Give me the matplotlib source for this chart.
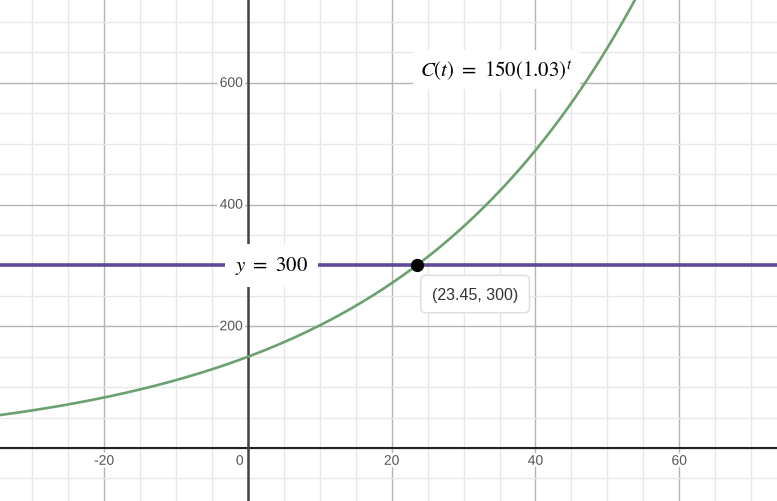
import matplotlib.pyplot as plt
import numpy as np
from matplotlib import patheffects

plt.rcParams['mathtext.fontset'] = 'stix'

# Values from the picture
initial = 150          # C(0)
growth = 1.03          # growth factor
level = 300            # horizontal line y = 300
meet = (23.45, 300)    # intersection point label
x_ticks = [-20, 0, 20, 40, 60]
y_ticks = [200, 400, 600]

xmin, xmax = -34.5, 73.6
ymin, ymax = -87.1, 737.9

fig = plt.figure(figsize=(7.77, 5.02), dpi=100)
ax = fig.add_axes([0, 0, 1, 1])
ax.set_xlim(xmin, xmax)
ax.set_ylim(ymin, ymax)
ax.axis('off')

# grid
for gx in np.arange(-30, 75, 5):
    major = gx % 20 == 0
    ax.axvline(gx, color='#b4b4b4' if major else '#e8e8e8', lw=1, zorder=0)
for gy in np.arange(-50, 750, 50):
    major = gy % 200 == 0
    ax.axhline(gy, color='#b4b4b4' if major else '#e8e8e8', lw=1, zorder=0)

ax.axhline(0, color='#222222', lw=1.5, zorder=1)
ax.axvline(0, color='#444444', lw=1.8, zorder=1)

halo = [patheffects.withStroke(linewidth=4, foreground='white')]
for tx in x_ticks:
    if tx == 0:
        ax.text(-0.6, -21, '0', ha='right', va='center', fontsize=10,
                family='Liberation Sans', color='#555555', path_effects=halo, zorder=2)
    else:
        ax.text(tx, -21, str(tx), ha='center', va='center', fontsize=10,
                family='Liberation Sans', color='#555555', path_effects=halo, zorder=2)
for ty in y_ticks:
    ax.text(-0.7, ty, str(ty), ha='right', va='center', fontsize=10,
            family='Liberation Sans', color='#555555', path_effects=halo, zorder=2)

# curves
t = np.linspace(xmin, xmax, 600)
ax.plot(t, initial * growth ** t, color='#6aa16f', lw=1.9, zorder=3)
ax.axhline(level, color='#61489a', lw=2.6, zorder=3)

ax.plot(*meet, 'o', color='black', markersize=8.5, zorder=5)

# labels
ax.text(-1.8, level, r'$y\ =\ 300$', fontsize=15, ha='left', va='center', zorder=4,
        bbox=dict(boxstyle='square,pad=0.5', fc='white', ec='none'))
ax.text(24.0, 622, r'$C(t)\ =\ 150(1.03)^t$', fontsize=15, ha='left', va='center', zorder=4,
        bbox=dict(boxstyle='square,pad=0.35', fc='white', ec='none'))
ax.text(31.6, 253, '(23.45, 300)', fontsize=11.5, ha='center', va='center',
        family='Liberation Sans', color='#333333', zorder=4,
        bbox=dict(boxstyle='round,pad=0.7,rounding_size=0.3', fc='white', ec='#dddddd', lw=1))

fig.savefig('out.png', dpi=100)
